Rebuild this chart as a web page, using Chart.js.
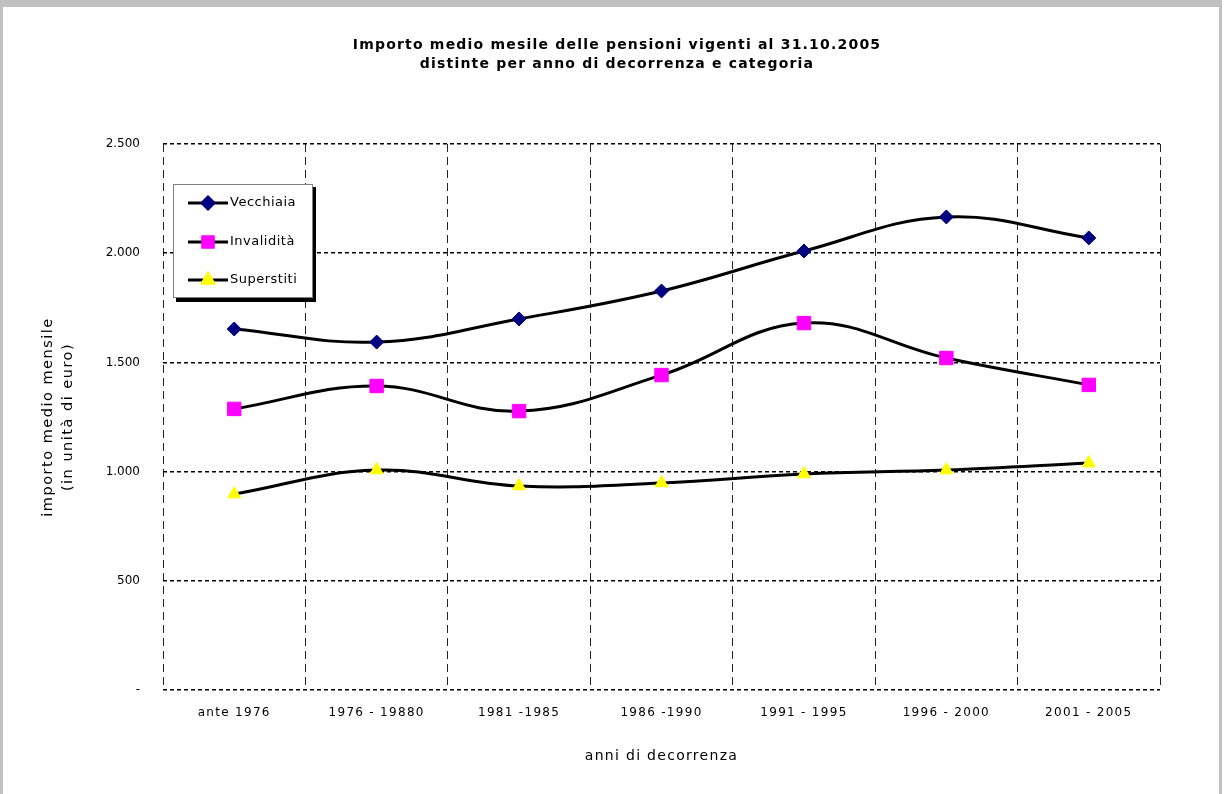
<!DOCTYPE html>
<html>
<head>
<meta charset="utf-8">
<script src="https://cdn.jsdelivr.net/npm/chart.js@4.4.0/dist/chart.umd.min.js"></script>
<style>
  html, body { margin: 0; padding: 0; background: #fff; }
  #wrap { position: absolute; left: 0; top: 0; width: 1226px; height: 794px; }
</style>
</head>
<body>
<div id="wrap"><canvas id="chart" width="1226" height="794"></canvas></div>
<script>
const categories = ['ante 1976', '1976 - 19880', '1981 -1985', '1986 -1990', '1991 - 1995', '1996 - 2000', '2001 - 2005'];
const vecchiaia = [1653, 1593, 1699, 1827, 2010, 2166, 2070];
const invalidita = [1287, 1392, 1277, 1442, 1680, 1520, 1397];
const superstiti = [897, 1007, 934, 948, 989, 1007, 1039];
const titleLines = ['Importo medio mesile delle pensioni vigenti al 31.10.2005', 'distinte per anno di decorrenza e categoria'];
const yTitleLines = ['importo medio mensile', '(in unità di euro)'];

const FONT = '"DejaVu Sans", Verdana, sans-serif';

function fmt(v) {
  if (v === 0) return '-';
  return String(v).replace(/\B(?=(\d{3})+(?!\d))/g, '.');
}

// frame, titles and boxed legend drawn straight on the canvas
const decor = {
  id: 'decor',
  beforeDraw(chart) {
    const ctx = chart.ctx;
    ctx.save();
    ctx.fillStyle = '#fff';
    ctx.fillRect(0, 0, chart.width, chart.height);
    ctx.fillStyle = '#c0c0c0';
    ctx.fillRect(0, 0, 1222, 7);
    ctx.fillRect(0, 0, 3, 794);
    ctx.fillRect(1219, 0, 3, 794);
    ctx.fillStyle = '#000';
    ctx.letterSpacing = '1.2px';
    ctx.font = 'bold 14px ' + FONT;
    ctx.textAlign = 'center';
    ctx.textBaseline = 'middle';
    ctx.fillText(titleLines[0], 617, 45);
    ctx.fillText(titleLines[1], 617, 64);
    // y axis title
    ctx.font = '14.5px ' + FONT;
    ctx.letterSpacing = '1.5px';
    ctx.translate(0, 417);
    ctx.rotate(-Math.PI / 2);
    ctx.fillText(yTitleLines[0], 0, 48);
    ctx.fillText(yTitleLines[1], 0, 68);
    ctx.restore();
    // wider spacing for x ticks and x title (drawn before datasets)
    ctx.letterSpacing = '1.3px';
  },
  afterDatasetsDraw(chart) {
    // y tick labels are drawn after the datasets, without extra spacing
    chart.ctx.letterSpacing = '0px';
  },
  afterDraw(chart) {
    const ctx = chart.ctx;
    ctx.save();
    ctx.fillStyle = '#000';
    ctx.fillRect(176, 187, 140, 115);
    ctx.fillStyle = '#fff';
    ctx.fillRect(173, 184, 140, 114);
    ctx.strokeStyle = '#808080';
    ctx.lineWidth = 1;
    ctx.strokeRect(173.5, 184.5, 139, 113);
    const rows = [203, 242, 280];
    chart.data.datasets.forEach((ds, i) => {
      const y = rows[i];
      ctx.strokeStyle = '#000';
      ctx.lineWidth = 3;
      ctx.beginPath();
      ctx.moveTo(188, y);
      ctx.lineTo(228, y);
      ctx.stroke();
      ctx.fillStyle = ds.pointBackgroundColor;
      ctx.strokeStyle = ds.pointBorderColor;
      Chart.helpers.drawPoint(ctx, {
        pointStyle: ds.pointStyle,
        radius: ds.legendRadius,
        borderWidth: 1,
        rotation: 0
      }, 208, y);
      ctx.fillStyle = '#000';
      ctx.font = '13px ' + FONT;
      ctx.letterSpacing = '0.5px';
      ctx.textAlign = 'left';
      ctx.textBaseline = 'middle';
      ctx.fillText(ds.label, 230, y);
    });
    ctx.restore();
  }
};

new Chart(document.getElementById('chart'), {
  type: 'line',
  data: {
    labels: categories,
    datasets: [
      {
        label: 'Vecchiaia',
        data: vecchiaia,
        borderColor: '#000',
        borderWidth: 3,
        tension: 0.4,
        pointStyle: 'rectRot',
        pointRadius: 7,
        legendRadius: 6,
        pointBackgroundColor: '#000080',
        pointBorderColor: '#000080',
        pointBorderWidth: 1
      },
      {
        label: 'Invalidità',
        data: invalidita,
        borderColor: '#000',
        borderWidth: 3,
        tension: 0.4,
        pointStyle: 'rect',
        pointRadius: 9.5,
        legendRadius: 7.5,
        pointBackgroundColor: '#ff00ff',
        pointBorderColor: '#ff00ff',
        pointBorderWidth: 1
      },
      {
        label: 'Superstiti',
        data: superstiti,
        borderColor: '#000',
        borderWidth: 3,
        tension: 0.4,
        pointStyle: 'triangle',
        pointRadius: 7.5,
        legendRadius: 6.5,
        pointBackgroundColor: '#ffff00',
        pointBorderColor: '#ffff00',
        pointBorderWidth: 1
      }
    ]
  },
  options: {
    responsive: false,
    animation: false,
    layout: { padding: { top: 144, right: 66, left: 0, bottom: 0 } },
    plugins: {
      legend: { display: false },
      title: { display: false },
      tooltip: { enabled: false }
    },
    scales: {
      x: {
        offset: true,
        grid: { offset: true, color: '#222', lineWidth: 1, drawTicks: false },
        border: { display: false, dash: [8, 5] },
        ticks: { color: '#000', font: { family: FONT, size: 12 }, padding: 16, maxRotation: 0 },
        title: {
          display: true,
          text: 'anni di decorrenza',
          color: '#000',
          font: { family: FONT, size: 14 },
          padding: { top: 0, bottom: 29 }
        },
        afterFit(scale) { scale.height = 104; }
      },
      y: {
        min: 0,
        max: 2500,
        ticks: {
          z: 1,
          stepSize: 500,
          color: '#000',
          font: { family: FONT, size: 12 },
          padding: 23,
          callback: (v) => fmt(v)
        },
        grid: { z: -1, color: '#000', lineWidth: 1.5, drawTicks: false },
        border: { display: false, dash: [4, 3] },
        afterFit(scale) { scale.width = 163; }
      }
    }
  },
  plugins: [decor]
});
</script>
</body>
</html>
